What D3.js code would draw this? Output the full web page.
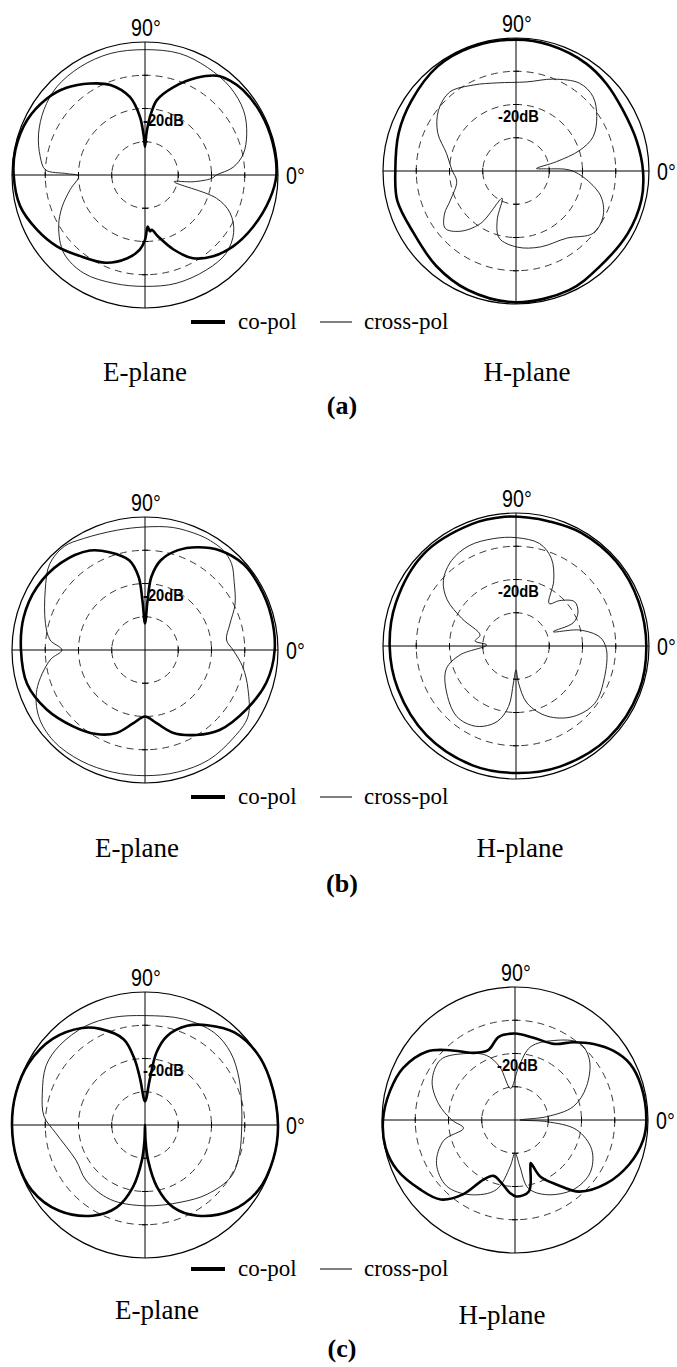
<!DOCTYPE html>
<html>
<head>
<meta charset="utf-8">
<script src="https://cdn.jsdelivr.net/npm/d3@7"></script>
<style>
  body { margin: 0; background: #fff; }
  svg { display: block; }
</style>
</head>
<body>
<div id="chart"></div>
<script>
// Size of the page and radius of every polar plot.
var w = 677,
    h = 1367,
    R = 133;

// dB levels of the grid rings (outer ring is 0 dB, centre is -40 dB).
var ringLevels = [-30, -20, -10];
var dbRange = [-40, 0];

// Patterns as [angle in degrees (0 = right, counter-clockwise), level in dB].
// (a) E-plane
var eA_co = [[0,-0.5],[14,-0.4],[28,-0.5],[41,-1],[48,-1.8],[54,-3.1],[62,-6.9],[72,-12.2],[81,-17.2],[85,-22.4],[88,-27.5],[90,-31.5],[92,-28],[95,-22.4],[101,-16.1],[111,-11],[121,-7.9],[132,-4.7],[142,-2.6],[155,-0.9],[169,-0.3],[180,-0.5],[194,-1.3],[207,-3.6],[219,-5.9],[231,-8.7],[246,-11.1],[258,-14.4],[266,-17.5],[270,-20.5],[273,-24.5],[275,-23],[277,-23.4],[282,-21.1],[291,-16],[300,-11.1],[310,-8.1],[321,-5.9],[334,-4],[349,-1.8]];
var eA_cross = [[0,-18.5],[5,-13.4],[12,-9.8],[22,-7],[33,-4.6],[46,-3.2],[60,-2.6],[74,-2],[90,-2.3],[106,-2],[121,-2.1],[135,-2.5],[147,-3.8],[159,-5.7],[170,-8],[177,-10],[179,-16.5],[181,-20],[191,-17.1],[201,-13.3],[211,-9.7],[224,-6.1],[238,-5.2],[254,-6.1],[270,-6.5],[286,-6.1],[303,-6],[316,-6.1],[327,-8.2],[336,-12],[342,-17.4],[347,-31],[352,-25.4],[357,-20]];
// (a) H-plane
var hA_co = [[0,-1.8],[14,-2.6],[30,-3],[44,-2.2],[57,-1.4],[75,-0.8],[90,-0.5],[110,-0.4],[127,-0.7],[146,-2.1],[162,-2.9],[180,-3.7],[194,-3.2],[211,-4],[230,-2.7],[248,-1.4],[270,-0.5],[294,-0.8],[311,-1.8],[331,-1.5],[347,-1.3]];
var hA_cross = [[7,-33.8],[13,-27.5],[18,-19.8],[24,-14.6],[34,-10.7],[44,-7.8],[54,-7.4],[68,-10.2],[83,-13],[102,-12.9],[116,-11.2],[130,-9],[142,-10.4],[154,-13.8],[166,-18.5],[179,-20.7],[190,-21.9],[204,-18.4],[211,-14.9],[219,-12.6],[227,-15.2],[236,-21],[243,-30.8],[249,-24.2],[256,-19.2],[271,-17.1],[288,-16],[307,-14.7],[321,-10.2],[332,-10.4],[343,-13.2],[353,-18.6],[1,-23.8],[4,-30.8]];
// (b) E-plane
var eB_co = [[0,-1],[15,-0.7],[29,-0.6],[41,-0.7],[53,-2.5],[63,-5.3],[72,-8.5],[80,-12.6],[85,-17.9],[87,-25],[90,-32],[93,-25],[95,-17.9],[100,-12.6],[110,-8.7],[119,-5.8],[134,-3.6],[150,-2.4],[165,-2.2],[180,-2.7],[196,-3.1],[211,-5.4],[227,-8.5],[240,-10.8],[251,-13.6],[261,-17.7],[270,-20],[279,-17.7],[289,-13.6],[301,-10.2],[313,-7.1],[330,-4.6],[345,-2.2]];
var eB_cross = [[0,-13.5],[7,-15.3],[17,-13.3],[27,-9.6],[37,-6.4],[45,-3.2],[52,-1.9],[59,-1.7],[65,-1.8],[77,-2.2],[90,-3],[103,-3],[119,-1.7],[128,-0.5],[138,-1.4],[149,-5],[165,-9],[174,-11.3],[180,-15],[186,-11.3],[200,-5.4],[212,-2.3],[225,-1.2],[240,-1.5],[255,-2],[270,-2.2],[285,-2],[300,-1.8],[315,-2.5],[327,-3.1],[339,-6.8],[350,-10.1]];
// (b) H-plane
var hB_co = [[0,-0.8],[20,-0.8],[40,-0.6],[60,-0.7],[75,-1.2],[85,-1.2],[95,-1],[110,-1],[135,-0.8],[160,-1.6],[180,-2],[200,-2.2],[225,-2],[250,-1.8],[270,-1.8],[290,-1.4],[315,-0.8],[340,-0.6]];
var hB_cross = [[6,-14.6],[14,-20.2],[21,-28],[22,-21.5],[28,-18.9],[37,-17.9],[46,-21],[52,-23.8],[60,-17.3],[68,-11.6],[77,-8.4],[90,-7.4],[102,-7],[115,-6.7],[127,-7.8],[138,-10.6],[146,-15],[153,-21.7],[163,-28.7],[173,-27.6],[178,-31.2],[189,-23],[198,-18],[212,-15.2],[230,-12.3],[244,-13.1],[256,-16.6],[263,-21.7],[266,-28.8],[270,-32.8],[274,-28.8],[281,-22.5],[294,-16.9],[309,-12.7],[324,-10.7],[341,-11.8],[358,-12.8]];
// (c) E-plane
var eC_co = [[0,0],[20,0],[33,0],[46,-1.3],[58,-4.6],[67,-7.6],[76,-12.4],[81,-17.9],[84,-26.2],[90,-32.9],[96,-26.2],[99,-20],[104,-13.4],[115,-8.1],[123,-5.2],[137,-2],[152,-0.4],[166,0],[180,0],[195,-0.1],[210,-0.7],[225,-3.5],[240,-8.5],[251,-13.8],[259,-21],[265,-29.4],[268,-35.4],[270,-40],[272,-35.4],[275,-29.4],[281,-21],[289,-13.8],[300,-8.5],[315,-3.5],[330,-0.7],[345,-0.1]];
var eC_cross = [[0,-10.9],[11,-10.4],[26,-8.5],[40,-6.3],[53,-5.3],[70,-6.1],[90,-7.1],[107,-6.2],[121,-5.3],[137,-4.9],[149,-5.3],[163,-7.7],[175,-9.5],[185,-13],[207,-16.7],[223,-15.7],[245,-15.3],[270,-15.7],[295,-14.4],[312,-12],[329,-9.8],[343,-10.3]];
// (c) H-plane
var hC_co = [[0,-0.5],[15,-0.7],[26,-1.5],[35,-3.8],[44,-7.1],[53,-10.7],[63,-14.3],[78,-14.6],[90,-14],[101,-14.5],[111,-17.5],[122,-16.2],[133,-11.3],[142,-6.5],[155,-2.9],[167,-1.4],[180,-0.3],[192,-0.2],[203,-1.5],[216,-4.6],[227,-7.3],[235,-12.7],[242,-19.6],[249,-22],[258,-20.6],[266,-18],[271,-17],[281,-18.1],[288,-25],[290,-26.2],[294,-21.4],[303,-16.8],[312,-11],[325,-6.6],[339,-3.1],[351,-1]];
var hC_cross = [[0,-38.5],[6,-30.4],[13,-22],[25,-16.3],[39,-11.2],[50,-9.8],[64,-13.4],[78,-17.5],[86,-24],[98,-30.4],[106,-23.4],[114,-18.7],[128,-14.7],[141,-11.2],[155,-12.5],[168,-16.5],[180,-21],[189,-24.3],[196,-17.7],[209,-13],[224,-11.4],[239,-13.8],[255,-18.3],[264,-25.9],[270,-30],[276,-25.9],[281,-19.1],[293,-15.6],[310,-12.7],[325,-12.4],[339,-15.3],[351,-21.3],[357,-30.5]];

// Row labels, plane names and legend names.
var rowTags = ["(a)", "(b)", "(c)"];
var planeNames = ["E-plane", "H-plane"];
var seriesNames = ["co-pol", "cross-pol"];

// One entry per polar plot: which row, which plane, its two series.
var panels = [
  {row: 0, plane: 0, cx: 145, cy: 175, co: eA_co, cross: eA_cross},
  {row: 0, plane: 1, cx: 516, cy: 171, co: hA_co, cross: hA_cross},
  {row: 1, plane: 0, cx: 145, cy: 650, co: eB_co, cross: eB_cross},
  {row: 1, plane: 1, cx: 516, cy: 646, co: hB_co, cross: hB_cross},
  {row: 2, plane: 0, cx: 145, cy: 1125, co: eC_co, cross: eC_cross},
  {row: 2, plane: 1, cx: 515, cy: 1120, co: hC_co, cross: hC_cross}
];

// Where the texts under each row sit.
var rowLayout = [
  {legendY: 322, planeY: [381, 381], planeX: [145, 527], tagY: 414},
  {legendY: 797, planeY: [857, 857], planeX: [137, 520], tagY: 892},
  {legendY: 1269, planeY: [1319, 1324], planeX: [157, 502], tagY: 1357}
];

var sans = "'Liberation Sans', Arial, sans-serif",
    serif = "'Liberation Serif', 'Times New Roman', serif";

var svg = d3.select("#chart")
    .append("svg")
    .attr("width", w)
    .attr("height", h);

var r = d3.scaleLinear().domain(dbRange).range([0, R]).clamp(true);

var line = d3.lineRadial()
    .angle(function (d) { return (90 - d[0]) * Math.PI / 180; })
    .radius(function (d) { return r(d[1]); })
    .curve(d3.curveCatmullRomClosed.alpha(0.5));

panels.forEach(function (p) {
  var g = svg.append("g")
      .attr("transform", "translate(" + p.cx + "," + p.cy + ")");

  // dashed rings
  g.selectAll("circle.ring")
      .data(ringLevels)
      .enter().append("circle")
      .attr("class", "ring")
      .attr("r", function (d) { return r(d); })
      .attr("fill", "none")
      .attr("stroke", "#222")
      .attr("stroke-width", 0.9)
      .attr("stroke-dasharray", "7,5");

  // outer ring
  g.append("circle")
      .attr("r", r(0))
      .attr("fill", "none")
      .attr("stroke", "#000")
      .attr("stroke-width", 1.2);

  // axes
  g.append("line").attr("x1", -R).attr("x2", R).attr("y1", 0).attr("y2", 0)
      .attr("stroke", "#000").attr("stroke-width", 1);
  g.append("line").attr("y1", -R).attr("y2", R).attr("x1", 0).attr("x2", 0)
      .attr("stroke", "#000").attr("stroke-width", 1);

  // small ticks where the rings cross the axes
  ringLevels.forEach(function (lv) {
    var rr = r(lv);
    [-1, 1].forEach(function (s) {
      g.append("line").attr("x1", s * rr).attr("x2", s * rr).attr("y1", -3).attr("y2", 3)
          .attr("stroke", "#000").attr("stroke-width", 1);
      g.append("line").attr("y1", s * rr).attr("y2", s * rr).attr("x1", -3).attr("x2", 3)
          .attr("stroke", "#000").attr("stroke-width", 1);
    });
  });

  // patterns
  g.append("path")
      .attr("d", line(p.cross))
      .attr("fill", "none")
      .attr("stroke", "#111")
      .attr("stroke-width", 0.9);
  g.append("path")
      .attr("d", line(p.co))
      .attr("fill", "none")
      .attr("stroke", "#000")
      .attr("stroke-width", 2.6)
      .attr("stroke-linejoin", "round");

  // angle labels (narrow sans, squeezed horizontally)
  g.append("text")
      .attr("transform", "translate(1," + (-R - 6) + ") scale(0.82,1)")
      .attr("text-anchor", "middle")
      .style("font-family", sans)
      .style("font-size", "24px")
      .text("90°");
  g.append("text")
      .attr("transform", "translate(" + (R + 8) + ",9) scale(0.82,1)")
      .style("font-family", sans)
      .style("font-size", "24px")
      .text("0°");

  // level label
  g.append("text")
      .attr("transform", "translate(" + (p.plane === 0 ? -2 : -18) + ",-49) scale(0.92,1)")
      .style("font-family", sans)
      .style("font-size", "16px")
      .style("font-weight", "bold")
      .text("-20dB");
});

// legends, plane names and row tags
rowLayout.forEach(function (L, i) {
  var lg = svg.append("g");
  lg.append("line").attr("x1", 191).attr("x2", 225).attr("y1", L.legendY).attr("y2", L.legendY)
      .attr("stroke", "#000").attr("stroke-width", 4);
  lg.append("text").attr("x", 238).attr("y", L.legendY + 7)
      .style("font-family", serif)
      .style("font-size", "23px")
      .text(seriesNames[0]);
  lg.append("line").attr("x1", 320).attr("x2", 352).attr("y1", L.legendY).attr("y2", L.legendY)
      .attr("stroke", "#000").attr("stroke-width", 1);
  lg.append("text").attr("x", 364).attr("y", L.legendY + 7)
      .style("font-family", serif)
      .style("font-size", "23px")
      .text(seriesNames[1]);

  planeNames.forEach(function (name, j) {
    svg.append("text")
        .attr("x", L.planeX[j])
        .attr("y", L.planeY[j])
        .attr("text-anchor", "middle")
        .style("font-family", serif)
        .style("font-size", "27px")
        .text(name);
  });

  svg.append("text")
      .attr("x", 342)
      .attr("y", L.tagY)
      .attr("text-anchor", "middle")
      .style("font-family", serif)
      .style("font-size", "26px")
      .style("font-weight", "bold")
      .text(rowTags[i]);
});
</script>
</body>
</html>
